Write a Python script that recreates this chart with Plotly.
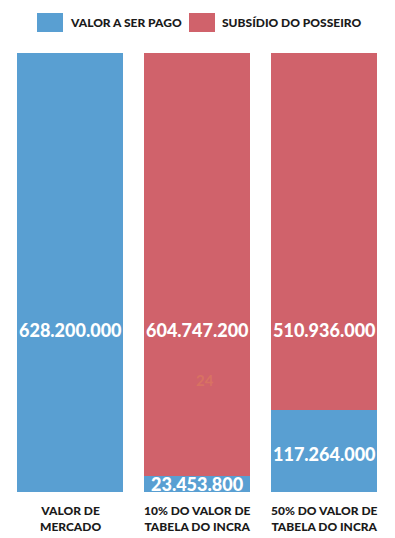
import plotly.graph_objects as go

categories = ["VALOR DE<br>MERCADO", "10% DO VALOR DE<br>TABELA DO INCRA", "50% DO VALOR DE<br>TABELA DO INCRA"]
valor_pago = [628_200_000, 23_453_800, 117_264_000]
subsidio = [0, 604_747_200, 510_936_000]
series_names = ["VALOR A SER PAGO", "SUBSÍDIO DO POSSEIRO"]

BLUE = "#599fd2"
RED = "#d0626b"
FONT = "Lato"
W, H = 395, 538
T, B = 53, 46

def fmt(v):
    return f"{v:,}".replace(",", ".")

x = list(range(len(categories)))
total = max(a + b for a, b in zip(valor_pago, subsidio))

fig = go.Figure()
fig.add_trace(go.Bar(x=x, y=valor_pago, name=series_names[0], marker=dict(color=BLUE, line=dict(width=0)),
                     width=0.835, showlegend=False, hoverinfo="skip"))
fig.add_trace(go.Bar(x=x, y=subsidio, name=series_names[1], marker=dict(color=RED, line=dict(width=0)),
                     width=0.835, showlegend=False, hoverinfo="skip"))

annotations = []
label_font = dict(family=FONT, size=18, color="white", weight=900)
for i, (b, r) in enumerate(zip(valor_pago, subsidio)):
    top_y = total * 0.369
    if r > 0:
        annotations.append(dict(x=i, y=top_y, text=fmt(r), showarrow=False, font=label_font,
                                xref="x", yref="y"))
        annotations.append(dict(x=i, y=b / 2, text=fmt(b), showarrow=False, font=label_font,
                                xref="x", yref="y", yshift=-3 if b > total * 0.05 else 0))
    else:
        annotations.append(dict(x=i, y=top_y, text=fmt(b), showarrow=False, font=label_font,
                                xref="x", yref="y"))
    annotations.append(dict(x=i, y=0, text=categories[i], showarrow=False, xref="x", yref="y",
                            yanchor="top", yshift=-9, align="center",
                            font=dict(family=FONT, size=12, color="#1a1a1a", weight=900)))

# faint watermark text in the middle bar
annotations.append(dict(x=1.06, y=total * 0.255, text="24", showarrow=False, xref="x", yref="y",
                        font=dict(family=FONT, size=15, color="#d87262", weight="bold")))

plot_h = H - T - B
def py(pix):
    return (H - B - pix) / plot_h

legend_items = [(series_names[0], BLUE, 37, 63), (series_names[1], RED, 189, 215)]
shapes = []
for name, col, x0, x1 in legend_items:
    shapes.append(dict(type="rect", xref="paper", yref="paper", x0=x0 / W, x1=x1 / W,
                       y0=py(32), y1=py(13), line=dict(width=0), fillcolor=col))
    annotations.append(dict(x=(x1 + 5) / W, y=py(22.5), xref="paper", yref="paper", text=name,
                            showarrow=False, xanchor="left", yanchor="middle",
                            font=dict(family=FONT, size=12, color="#1a1a1a", weight=900)))

fig.update_layout(
    width=W, height=H,
    barmode="stack",
    bargap=0,
    margin=dict(l=0, r=0, t=T, b=B),
    plot_bgcolor="white", paper_bgcolor="white",
    xaxis=dict(range=[-70 / 127, -70 / 127 + W / 127], showticklabels=False, showgrid=False,
               zeroline=False, showline=False, fixedrange=True),
    yaxis=dict(range=[0, total], showticklabels=False, showgrid=False, zeroline=False,
               showline=False, fixedrange=True),
    showlegend=False,
    shapes=shapes,
    annotations=annotations,
)

fig.write_html("out.html", config={"displayModeBar": False},
               post_script="document.body.style.margin='0';document.body.style.overflow='hidden';")
